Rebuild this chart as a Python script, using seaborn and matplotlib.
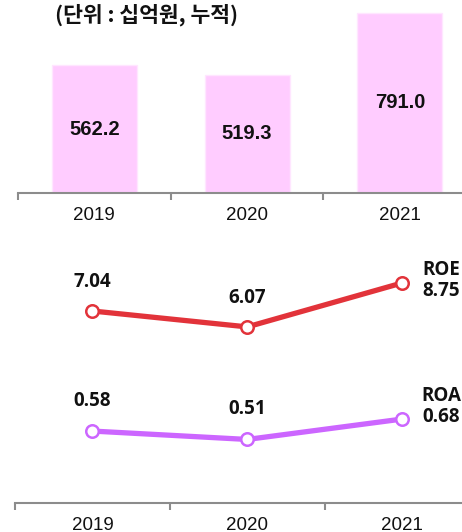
import matplotlib.pyplot as plt
import seaborn as sns
import pandas as pd

# Données
years = ["2019", "2020", "2021"]
profit = [562.2, 519.3, 791.0]
roe = [7.04, 6.07, 8.75]
roa = [0.58, 0.51, 0.68]

sns.set_style("white")
plt.rcParams['font.family'] = ['Liberation Sans', 'DejaVu Sans']

fig = plt.figure(figsize=(4.62, 5.32), dpi=100)


def style_axis(ax):
    # Axe x gris avec graduations entre les catégories
    for s in ["top", "right", "left"]:
        ax.spines[s].set_visible(False)
    ax.spines["bottom"].set_color("#8c8c8c")
    ax.spines["bottom"].set_linewidth(1.5)
    ax.set_yticks([])
    ax.set_xticks([-0.5, 0.5, 1.5, 2.5])
    ax.set_xticklabels([])
    ax.tick_params(axis="x", which="major", direction="out", length=5,
                   width=1.5, color="#8c8c8c", bottom=True)
    ax.set_xticks([0, 1, 2], minor=True)
    ax.set_xticklabels(years, minor=True, fontsize=13.5, color="#111111")
    ax.tick_params(axis="x", which="minor", length=0, pad=10)
    ax.set_xlabel("")
    ax.set_ylabel("")


# --- Graphique du haut : barres ---
ax_top = fig.add_axes([18 / 462, (532 - 193) / 532, 444 / 462, 193 / 532])
df_bar = pd.DataFrame({"year": years, "value": profit})
sns.barplot(data=df_bar, x="year", y="value", ax=ax_top, color="#FFCCFF",
            saturation=1, width=0.557, edgecolor="#FFE6FF", linewidth=1)
style_axis(ax_top)
ax_top.set_xlim(-0.5, 2.407)
ax_top.set_ylim(0, 848)
for i, v in enumerate(profit):
    ax_top.text(i, v / 2, f"{v:.1f}", ha="center", va="center",
                fontsize=14.5, fontweight="bold", color="#111111")

fig.text(55 / 462, 1 - 15 / 532, "(단위 : 십억원, 누적)", ha="left", va="center",
         fontsize=15.5, fontweight="bold", family=['Noto Sans CJK KR', 'DejaVu Sans'],
         color="#111111")

# --- Graphique du bas : ROE / ROA ---
ax_bot = fig.add_axes([15 / 462, (532 - 503) / 532, 447 / 462, 253 / 532])
ax_roa = ax_bot.twinx()

df_line = pd.DataFrame({"year": years, "roe": roe, "roa": roa})
sns.lineplot(data=df_line, x="year", y="roe", ax=ax_bot, color="#E2333A",
             linewidth=3.8, marker="o", markersize=9, markerfacecolor="white",
             markeredgecolor="#E2333A", markeredgewidth=1.8)
sns.lineplot(data=df_line, x="year", y="roa", ax=ax_roa, color="#CC66FF",
             linewidth=3.8, marker="o", markersize=9, markerfacecolor="white",
             markeredgecolor="#CC66FF", markeredgewidth=1.8)

style_axis(ax_bot)
ax_bot.set_xlim(-0.5, 2.387)
ax_roa.set_xlim(-0.5, 2.387)
ax_bot.set_ylim(-4.67, 10.76)
ax_roa.set_ylim(-0.02, 2.09)
ax_roa.set_axis_off()

lab_font = dict(fontsize=13.5, fontweight="bold", color="#111111",
                family=['Open Sans', 'DejaVu Sans'])
for i in range(2):
    ax_bot.annotate(f"{roe[i]:.2f}", (i, roe[i]), xytext=(0, 21),
                    textcoords="offset points", ha="center", va="center", **lab_font)
    ax_roa.annotate(f"{roa[i]:.2f}", (i, roa[i]), xytext=(0, 22),
                    textcoords="offset points", ha="center", va="center", **lab_font)
ax_bot.annotate(f"ROE\n{roe[2]:.2f}", (2, roe[2]), xytext=(28, 2),
                textcoords="offset points", ha="center", va="center",
                linespacing=1.05, **lab_font)
ax_roa.annotate(f"ROA\n{roa[2]:.2f}", (2, roa[2]), xytext=(28, 9),
                textcoords="offset points", ha="center", va="center",
                linespacing=1.05, **lab_font)

plt.savefig("out.png", dpi=100)
plt.close()
